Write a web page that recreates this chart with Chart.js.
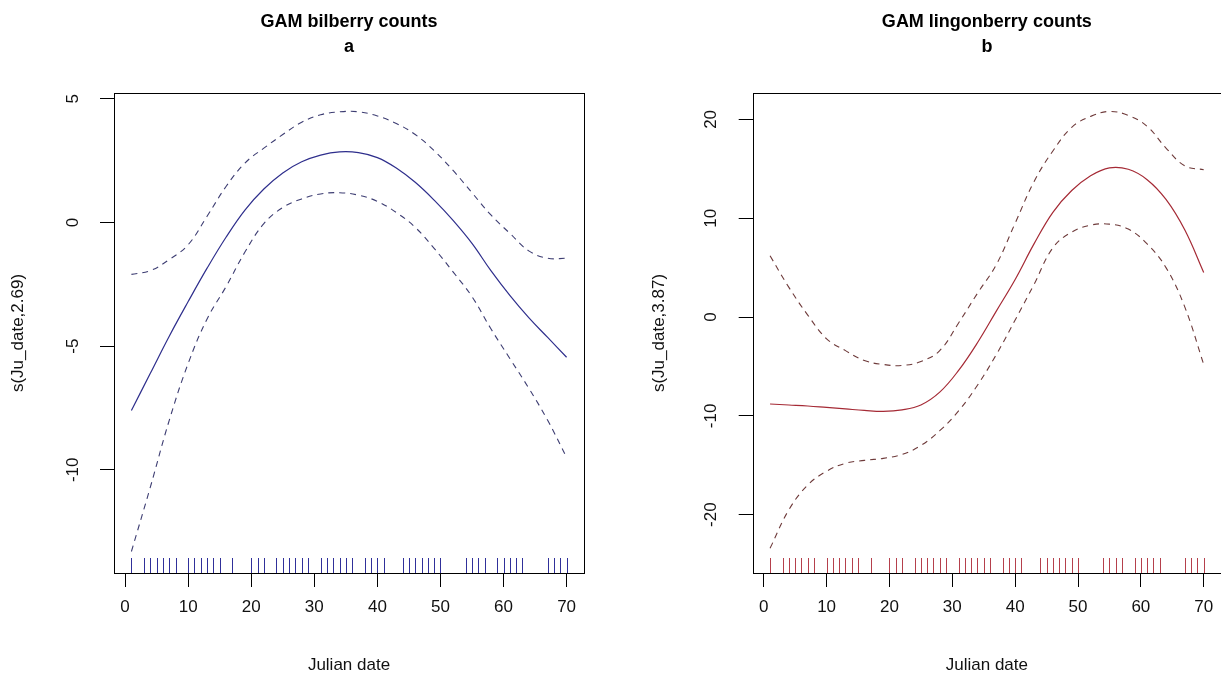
<!DOCTYPE html>
<html><head><meta charset="utf-8">
<script src="https://cdn.jsdelivr.net/npm/chart.js@4.4.1/dist/chart.umd.min.js"></script>
<style>
html,body{margin:0;padding:0;background:#fff;overflow:hidden;width:1221px;height:681px;}
.p{position:absolute;top:0;height:681px;}
#pa{left:0;width:611px;}
#pb{left:611px;width:612px;}
</style></head><body>
<div class="p" id="pa"><canvas id="ca"></canvas></div>
<div class="p" id="pb"><canvas id="cb"></canvas></div>
<script>
// ---- data ----
const julianDates = [1,4,7,10,13,16,19,22,25,28,31,34,37,40,43,46,49,52,55,58,61,64,67,70];
const bilberryFit   = [-7.6,-6.1,-4.6,-3.2,-1.85,-0.6,0.5,1.35,2.0,2.45,2.72,2.85,2.82,2.62,2.2,1.62,0.9,0.08,-0.85,-1.95,-2.95,-3.85,-4.65,-5.45];
const bilberryUpper = [-2.1,-1.95,-1.5,-0.9,0.25,1.45,2.4,3.0,3.55,4.05,4.35,4.47,4.47,4.3,4.0,3.55,2.9,2.1,1.2,0.3,-0.44,-1.15,-1.45,-1.45];
const bilberryLower = [-13.3,-10.7,-8.0,-5.7,-3.9,-2.6,-1.2,-0.05,0.6,0.95,1.15,1.2,1.1,0.85,0.4,-0.2,-1.05,-2.0,-3.0,-4.3,-5.5,-6.7,-8.0,-9.5];
const lingonFit   = [-8.8,-8.9,-9.0,-9.15,-9.3,-9.45,-9.55,-9.4,-8.9,-7.6,-5.4,-2.6,0.6,3.8,7.4,10.6,12.8,14.3,15.1,14.95,13.9,11.9,8.8,4.5];
const lingonUpper = [6.2,3.0,0.2,-2.2,-3.4,-4.4,-4.8,-4.9,-4.5,-3.4,-0.6,2.4,5.3,9.5,13.7,16.8,19.2,20.3,20.8,20.4,19.3,17.1,15.3,14.9];
const lingonLower = [-23.4,-19.5,-17.0,-15.6,-14.8,-14.5,-14.3,-13.9,-13.0,-11.5,-9.5,-6.9,-3.8,-0.3,3.3,7.0,8.6,9.3,9.4,8.9,7.4,5.0,1.0,-4.8];
const rugDates = [1,3,4,5,6,7,8,10,11,12,13,14,15,17,20,21,22,24,25,26,27,28,29,31,32,33,34,35,36,38,39,40,41,44,45,46,47,48,49,50,54,55,56,57,59,60,61,62,63,67,68,69,70];
const xTickLabels = [0,10,20,30,40,50,60,70];
const bilberryYTicks = [-10,-5,0,5];
const lingonYTicks = [-20,-10,0,10,20];
const titleA = ['GAM bilberry counts','a'];
const titleB = ['GAM lingonberry counts','b'];
const yTitleA = 's(Ju_date,2.69)';
const yTitleB = 's(Ju_date,3.87)';
const xTitle = 'Julian date';

const FONT = '"Liberation Sans", Arial, Helvetica, sans-serif';

function pts(ys){ return julianDates.map((x,i)=>({x:x,y:ys[i]})); }

function panelPlugin(p){
  return {
    id:'panel'+p.id,
    afterDatasetsDraw(chart){
      const ctx = chart.ctx, a = chart.chartArea, xs = chart.scales.x;
      ctx.save();
      ctx.strokeStyle = p.rugColor; ctx.lineWidth = 1;
      ctx.beginPath();
      rugDates.forEach(d=>{
        const px = Math.round(xs.getPixelForValue(d)) + 0.5;
        ctx.moveTo(px, a.bottom); ctx.lineTo(px, a.bottom - 15);
      });
      ctx.stroke();
      ctx.strokeStyle = '#000'; ctx.lineWidth = 1;
      ctx.strokeRect(Math.round(a.left)+0.5, Math.round(a.top)+0.5, Math.round(a.right-a.left), Math.round(a.bottom-a.top));
      ctx.font = 'bold 18px ' + FONT;
      ctx.fillStyle = '#000'; ctx.textAlign = 'center'; ctx.textBaseline = 'middle';
      const cx = (a.left + a.right)/2;
      p.title.forEach((t,i)=>ctx.fillText(t, cx, 22 + i*25));
      ctx.restore();
    }
  };
}

function makeChart(id, p){
  const dashed = {borderDash:[6,5], borderWidth:1.1, borderColor:p.dashColor};
  return new Chart(document.getElementById(id), {
    type:'scatter',
    data:{datasets:[
      Object.assign({label:'upper', data:pts(p.upper), showLine:true, pointRadius:0, tension:0.4}, dashed),
      {label:'fit', data:pts(p.fit), showLine:true, pointRadius:0, tension:0.4, borderColor:p.lineColor, borderWidth:1.2},
      Object.assign({label:'lower', data:pts(p.lower), showLine:true, pointRadius:0, tension:0.4}, dashed)
    ]},
    options:{
      responsive:true, maintainAspectRatio:false, animation:false,
      layout:{padding:{top:93, right:p.padRight, bottom:0, left:0}},
      plugins:{legend:{display:false}, tooltip:{enabled:false}, title:{display:false}},
      scales:{
        x:{type:'linear', min:-1.76, max:72.76,
          afterBuildTicks:s=>{s.ticks = xTickLabels.map(v=>({value:v}));},
          afterFit:s=>{s.height = 108;},
          grid:{display:true, drawOnChartArea:false, drawTicks:true, tickLength:14, color:'#000', tickColor:'#000', lineWidth:1},
          border:{display:false},
          ticks:{autoSkip:false, maxRotation:0, minRotation:0, padding:9.8, color:'#111', font:{family:FONT, size:17}},
          title:{display:true, text:xTitle, color:'#111', font:{family:FONT, size:17}, padding:{top:0, bottom:5.8}}
        },
        y:{type:'linear', min:p.yMin, max:p.yMax,
          afterBuildTicks:s=>{s.ticks = p.yTicks.map(v=>({value:v}));},
          afterFit:s=>{s.width = p.yWidth;},
          grid:{display:true, drawOnChartArea:false, drawTicks:true, tickLength:14, color:'#000', tickColor:'#000', lineWidth:1},
          border:{display:false},
          ticks:{autoSkip:false, minRotation:90, maxRotation:90, crossAlign:'center', padding:14.7, color:'#111', font:{family:FONT, size:17}},
          title:{display:true, text:p.yTitle, color:'#111', font:{family:FONT, size:17}, padding:{top:p.yTitlePad, bottom:0}}
        }
      }
    },
    plugins:[panelPlugin(p)]
  });
}

makeChart('ca', {id:'a', fit:bilberryFit, upper:bilberryUpper, lower:bilberryLower,
  lineColor:'#2e2e8c', dashColor:'#3d3d72', rugColor:'#30309a',
  yMin:-14.17, yMax:5.23, yTicks:bilberryYTicks, yTitle:yTitleA, yTitlePad:7.8,
  yWidth:114, padRight:27, title:titleA});
makeChart('cb', {id:'b', fit:lingonFit, upper:lingonUpper, lower:lingonLower,
  lineColor:'#a52a35', dashColor:'#6e3a3a', rugColor:'#b5404c',
  yMin:-25.9, yMax:22.67, yTicks:lingonYTicks, yTitle:yTitleB, yTitlePad:37.8,
  yWidth:141.7, padRight:1, title:titleB});
</script>
</body></html>
